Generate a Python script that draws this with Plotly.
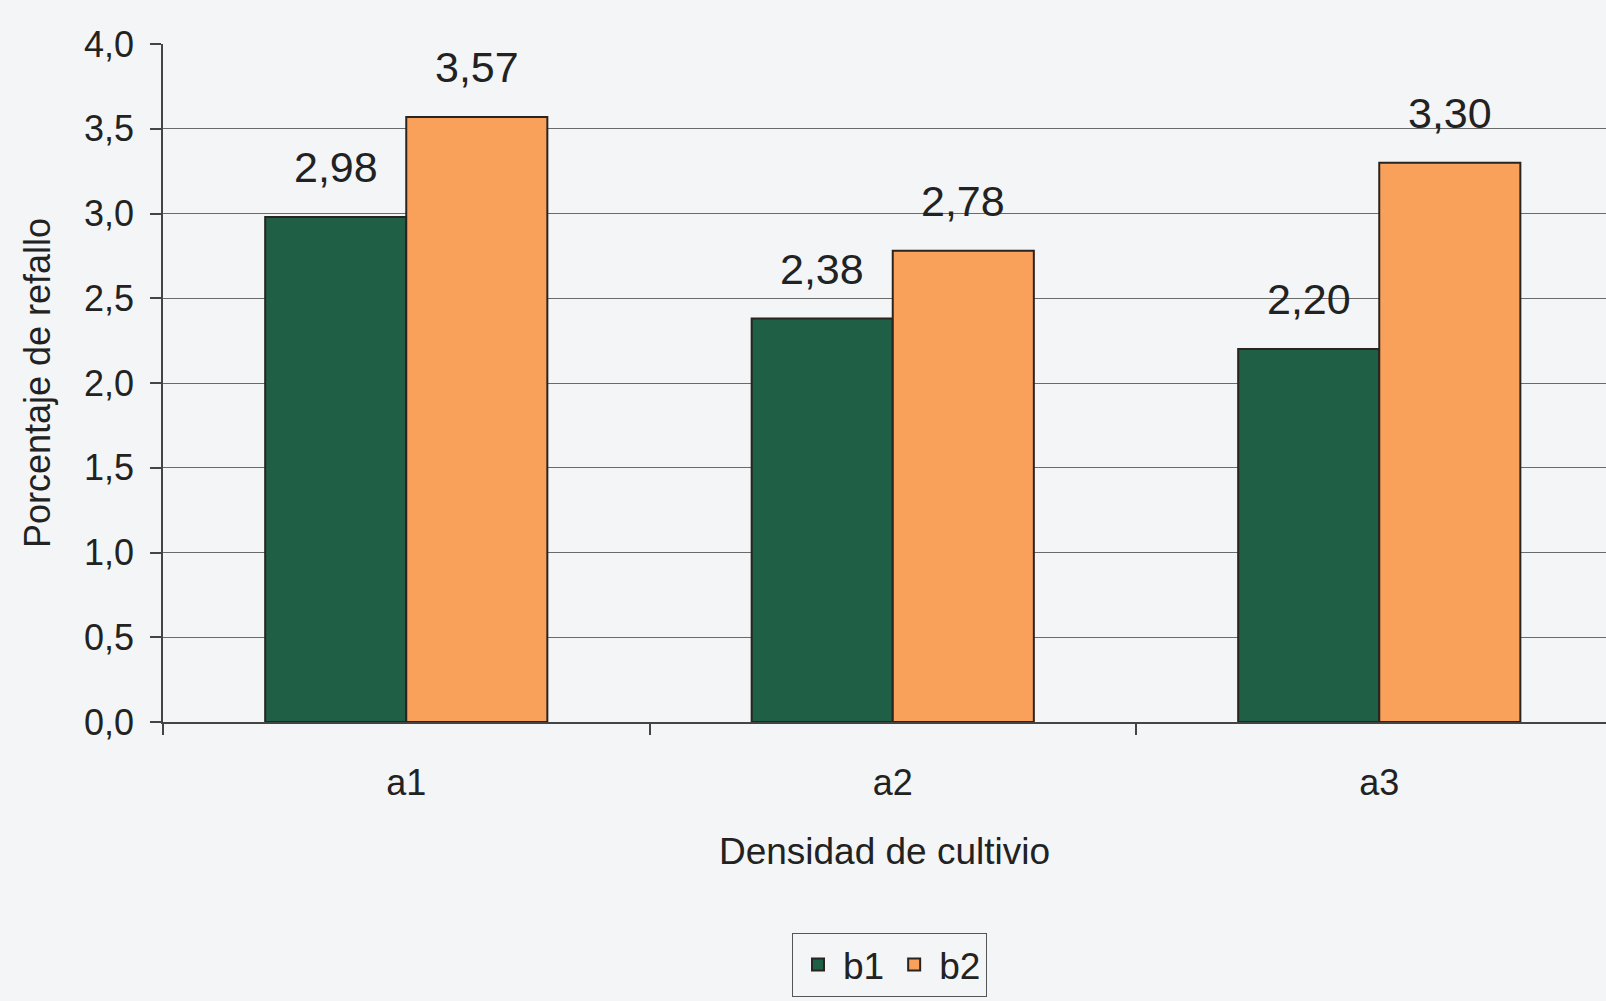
import plotly.graph_objects as go

categories = ["a1", "a2", "a3"]
series_names = ["b1", "b2"]
b1_values = [2.98, 2.38, 2.20]
b2_values = [3.57, 2.78, 3.30]
y_ticks = [0.0, 0.5, 1.0, 1.5, 2.0, 2.5, 3.0, 3.5, 4.0]

colors = {"b1": "#1e5f46", "b2": "#f9a05a"}
bg = "#f3f5f6"
font_family = "Liberation Sans, Arial, sans-serif"
text_color = "#222222"

x_idx = list(range(len(categories)))
bargap = 0.42
bar_w = (1 - bargap) / 2

fig = go.Figure()
for name, vals in zip(series_names, [b1_values, b2_values]):
    fig.add_trace(go.Bar(
        name=name, x=x_idx, y=vals,
        marker=dict(color=colors[name], line=dict(color="#2a2420", width=2)),
    ))

# data labels above bars
offsets = {"b1": -bar_w / 2, "b2": bar_w / 2}
for name, vals in zip(series_names, [b1_values, b2_values]):
    for xi, v in zip(x_idx, vals):
        fig.add_annotation(
            x=xi + offsets[name], y=v, xref="x", yref="y",
            text=f"{v:.2f}".replace(".", ","), showarrow=False,
            yanchor="middle", yshift=50,
            font=dict(size=43, color=text_color, family=font_family),
        )

W, H = 1606, 1001
left, top, bottom_px = 163, 44, 722
cat_w = 486.5
plot_w = W - left
x_range = [-0.5, -0.5 + plot_w / cat_w]

fig.update_layout(
    width=W, height=H,
    margin=dict(l=left, r=0, t=top, b=H - bottom_px, pad=0),
    paper_bgcolor=bg, plot_bgcolor=bg,
    barmode="group", bargap=bargap, bargroupgap=0,
    separators=",.",
    font=dict(family=font_family, color=text_color, size=34),
    showlegend=True,
    legend=dict(
        orientation="h", x=(889.5 - left) / plot_w, xanchor="center",
        y=(bottom_px - 933) / (bottom_px - top), yanchor="top",
        bordercolor="#555555", borderwidth=1, bgcolor=bg,
        font=dict(size=37, family=font_family, color=text_color),
        itemsizing="constant", tracegroupgap=0, itemwidth=40,
    ),
)

fig.update_xaxes(
    range=x_range, tickmode="array", tickvals=x_idx, ticktext=categories,
    ticks="outside", ticklen=28, tickcolor="rgba(0,0,0,0)",
    tickfont=dict(size=36, family=font_family, color=text_color),
    showline=True, linecolor="#444444", linewidth=1.5,
    showgrid=False, zeroline=False,
    minor=dict(tickmode="array", tickvals=[-0.5, 0.5, 1.5], ticks="outside",
               ticklen=11, tickcolor="#444444", tickwidth=1.5, showgrid=False),
    title=dict(text="Densidad de cultivio", standoff=36,
               font=dict(size=37, family=font_family, color=text_color)),
)

fig.update_yaxes(
    range=[0, 4], tickmode="array", tickvals=y_ticks,
    ticktext=[f"{t:.1f}".replace(".", ",") for t in y_ticks],
    ticks="outside", ticklen=11, tickcolor="#444444", tickwidth=1.5,
    ticklabelstandoff=9,
    tickfont=dict(size=36, family=font_family, color=text_color),
    showline=True, linecolor="#444444", linewidth=1.5,
    showgrid=True, gridcolor="#6a6a6a", gridwidth=1.2,
    zeroline=False,
    title=dict(text="Porcentaje de refallo", standoff=22,
               font=dict(size=36, family=font_family, color=text_color)),
)

fig.write_html("out.html")
